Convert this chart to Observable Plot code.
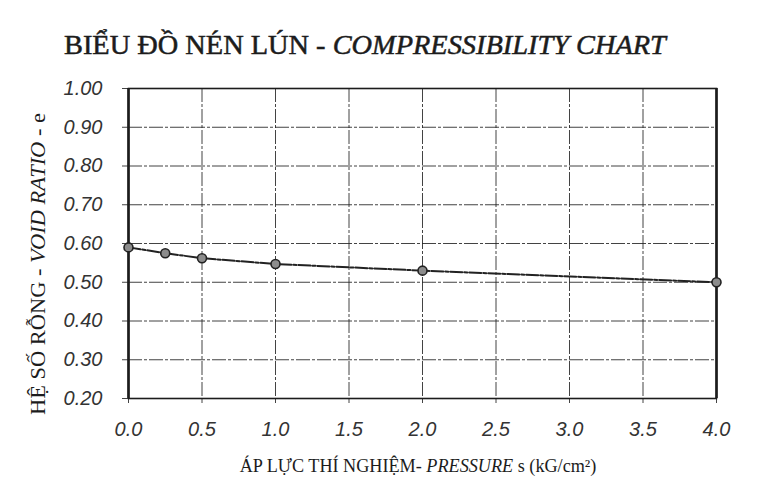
<!DOCTYPE html>
<html>
<head>
<meta charset="utf-8">
<script src="https://cdn.jsdelivr.net/npm/d3@7"></script>
<script src="https://cdn.jsdelivr.net/npm/@observablehq/plot@0.6"></script>
<style>
  html, body { margin: 0; padding: 0; background: #ffffff; }
  #chart { width: 763px; height: 483px; }
</style>
</head>
<body>
<div id="chart"></div>
<script>
// Data
const pressure  = [0, 0.25, 0.5, 1.0, 2.0, 4.0];
const voidRatio = [0.590, 0.575, 0.562, 0.547, 0.530, 0.500];
const xTicks = [0, 0.5, 1.0, 1.5, 2.0, 2.5, 3.0, 3.5, 4.0];
const yTicks = [0.2, 0.3, 0.4, 0.5, 0.6, 0.7, 0.8, 0.9, 1.0];
const titleMain = "BIỂU ĐỒ NÉN LÚN - ";
const titleItalic = "COMPRESSIBILITY CHART";
const yLabelParts = ["HỆ SỐ RỖNG - ", "VOID RATIO", " - e"];
const xLabelParts = ["ÁP LỰC THÍ NGHIỆM- ", "PRESSURE", " s (kG/cm²)"];

const data = pressure.map((p, i) => ({p, e: voidRatio[i]}));

const ink = "#1c1c1c";
const gridStyle = {stroke: "#222", strokeOpacity: 0.85, strokeWidth: 1, strokeDasharray: "14,2,3,2"};

const svg = Plot.plot({
  width: 763,
  height: 483,
  marginLeft: 128,
  marginRight: 47,
  marginTop: 88,
  marginBottom: 85,
  style: {background: "#ffffff", fontFamily: "'Liberation Sans', Arial, sans-serif", color: "#333"},
  x: {domain: [0, 4], label: null},
  y: {domain: [0.2, 1.0], label: null},
  marks: [
    Plot.gridX(xTicks.slice(1, -1), gridStyle),
    Plot.gridY(yTicks.slice(1, -1), gridStyle),
    Plot.axisY(yTicks, {
      tickFormat: d => d.toFixed(2), fontSize: 20, fontStyle: "italic",
      tickSize: 6, tickPadding: 20, stroke: "#444", fill: "#333", label: null
    }),
    Plot.axisX(xTicks, {
      tickFormat: d => d.toFixed(1), fontSize: 20, fontStyle: "italic",
      tickSize: 5, tickPadding: 18, stroke: "#444", fill: "#333", label: null
    }),
    Plot.frame({stroke: ink, strokeWidth: 1.6}),
    Plot.ruleX([0, 4], {stroke: ink, strokeWidth: 2.6}),
    Plot.line(data, {x: "p", y: "e", stroke: "#222", strokeWidth: 2, strokeDasharray: "12,2,3,2"}),
    Plot.dot(data, {x: "p", y: "e", r: 4.5, fill: "#8c8c8c", stroke: "#222", strokeWidth: 1.6})
  ]
});

document.getElementById("chart").appendChild(svg);

const s = d3.select(svg);
const serif = "'Liberation Serif', 'Times New Roman', serif";

// helper: build multi-part text, then squeeze/stretch horizontally to a target length
function label(parts, italicIdx, size, x, y, target, rotate, anchor, weightStroke) {
  const g = s.append("g");
  const t = g.append("text")
    .attr("font-family", serif).attr("font-size", size).attr("fill", ink)
    .attr("text-anchor", anchor);
  if (weightStroke) t.attr("stroke", ink).attr("stroke-width", weightStroke);
  parts.forEach((p, i) => {
    const ts = t.append("tspan").text(p);
    if (i === italicIdx) ts.attr("font-style", "italic");
  });
  const len = t.node().getComputedTextLength();
  const k = len > 0 ? target / len : 1;
  g.attr("transform", `translate(${x},${y})` + (rotate ? " rotate(-90)" : "") + ` scale(${k},1)`);
}

label([titleMain, titleItalic], 1, 27, 64, 54, 602, false, "start", 0.5);
label(yLabelParts, 1, 20, 45, 264, 302, true, "middle", 0);
label(xLabelParts, 1, 18, 418, 472, 357, false, "middle", 0);
</script>
</body>
</html>
